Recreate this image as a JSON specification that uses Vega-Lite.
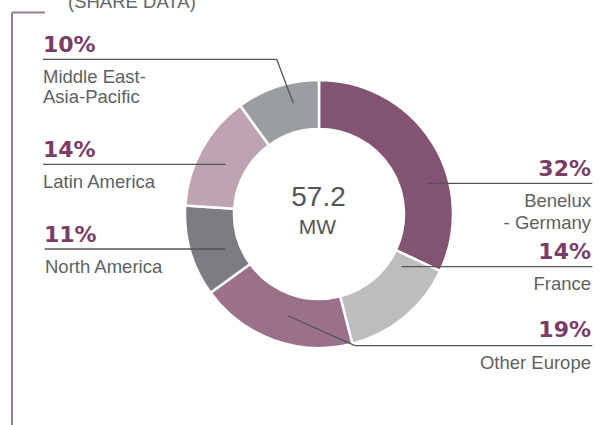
{
  "$schema": "https://vega.github.io/schema/vega-lite/v6.json",
  "width": 611,
  "height": 425,
  "padding": 0,
  "autosize": {"type": "none"},
  "background": "white",
  "config": {"view": {"stroke": null}},
  "datasets": {
    "slices": [
      {"region": "Benelux - Germany", "share": 32, "k": 1},
      {"region": "France", "share": 14, "k": 2},
      {"region": "Other Europe", "share": 19, "k": 3},
      {"region": "North America", "share": 11, "k": 4},
      {"region": "Latin America", "share": 14, "k": 5},
      {"region": "Middle East-Asia-Pacific", "share": 10, "k": 6}
    ],
    "leaders": [
      {"x": 43, "y": 59.3, "x2": 276.7, "y2": 59.3},
      {"x": 276.7, "y": 59.3, "x2": 293.3, "y2": 103.3},
      {"x": 43, "y": 164.3, "x2": 225.7, "y2": 164.3},
      {"x": 44.5, "y": 249, "x2": 225, "y2": 249},
      {"x": 426.7, "y": 183.3, "x2": 592.3, "y2": 183.3},
      {"x": 401.7, "y": 266.7, "x2": 592.3, "y2": 266.7},
      {"x": 355, "y": 345.7, "x2": 592.3, "y2": 345.7},
      {"x": 288.3, "y": 316, "x2": 355, "y2": 345.7}
    ],
    "frame": [
      {"x": 12, "y": 12.5, "x2": 12, "y2": 425},
      {"x": 12, "y": 12.5, "x2": 45, "y2": 12.5}
    ],
    "texts": [
      {"kind": "pctL", "txt": "10%", "x": 43, "y": 52.3},
      {"kind": "pctL", "txt": "14%", "x": 43, "y": 157.3},
      {"kind": "pctL", "txt": "11%", "x": 44, "y": 241.7},
      {"kind": "pctR", "txt": "32%", "x": 591, "y": 175.7},
      {"kind": "pctR", "txt": "14%", "x": 591, "y": 259.3},
      {"kind": "pctR", "txt": "19%", "x": 591, "y": 337.3},
      {"kind": "nameL", "txt": "Middle East-\nAsia-Pacific", "x": 43, "y": 82.7},
      {"kind": "nameL", "txt": "Latin America", "x": 43, "y": 188.3},
      {"kind": "nameL", "txt": "North America", "x": 45, "y": 272.7},
      {"kind": "nameR", "txt": "Benelux\n- Germany", "x": 591, "y": 206.7},
      {"kind": "nameR", "txt": "France", "x": 591, "y": 290},
      {"kind": "nameR", "txt": "Other Europe", "x": 591, "y": 369},
      {"kind": "big", "txt": "57.2", "x": 318.5, "y": 206},
      {"kind": "unit", "txt": "MW", "x": 317.5, "y": 234},
      {"kind": "title", "txt": "(SHARE DATA)", "x": 68, "y": 8}
    ]
  },
  "layer": [
    {
      "data": {"name": "frame"},
      "mark": {"type": "rule", "stroke": "#9b7b92", "strokeWidth": 2},
      "encoding": {
        "x": {"field": "x", "type": "quantitative", "scale": {"domain": [0, 611], "nice": false, "zero": false}, "axis": null},
        "y": {"field": "y", "type": "quantitative", "scale": {"domain": [0, 425], "nice": false, "zero": false, "reverse": true}, "axis": null},
        "x2": {"field": "x2"},
        "y2": {"field": "y2"}
      }
    },
    {
      "data": {"name": "slices"},
      "mark": {"type": "arc", "outerRadius": 134, "innerRadius": 85, "stroke": "white", "strokeWidth": 2.5},
      "encoding": {
        "theta": {"field": "share", "type": "quantitative", "stack": true},
        "order": {"field": "k", "type": "quantitative"},
        "color": {
          "field": "region",
          "type": "nominal",
          "scale": {
            "domain": ["Benelux - Germany", "France", "Other Europe", "North America", "Latin America", "Middle East-Asia-Pacific"],
            "range": ["#835373", "#bcbdbf", "#9b7189", "#7c7d81", "#bea3b0", "#9a9ea0"]
          },
          "legend": null
        },
        "x": {"datum": 319, "type": "quantitative"},
        "y": {"datum": 214, "type": "quantitative"}
      }
    },
    {
      "data": {"name": "leaders"},
      "mark": {"type": "rule", "stroke": "#555555", "strokeWidth": 1.3},
      "encoding": {
        "x": {"field": "x", "type": "quantitative"},
        "y": {"field": "y", "type": "quantitative"},
        "x2": {"field": "x2"},
        "y2": {"field": "y2"}
      }
    },
    {
      "data": {"name": "texts"},
      "transform": [{"filter": "datum.kind === 'pctL'"}],
      "mark": {"type": "text", "align": "left", "baseline": "alphabetic", "font": "DejaVu Sans", "fontWeight": "bold", "fontSize": 22, "fill": "#7b3d68"},
      "encoding": {
        "x": {"field": "x", "type": "quantitative"},
        "y": {"field": "y", "type": "quantitative"},
        "text": {"field": "txt"}
      }
    },
    {
      "data": {"name": "texts"},
      "transform": [{"filter": "datum.kind === 'pctR'"}],
      "mark": {"type": "text", "align": "right", "baseline": "alphabetic", "font": "DejaVu Sans", "fontWeight": "bold", "fontSize": 22, "fill": "#7b3d68"},
      "encoding": {
        "x": {"field": "x", "type": "quantitative"},
        "y": {"field": "y", "type": "quantitative"},
        "text": {"field": "txt"}
      }
    },
    {
      "data": {"name": "texts"},
      "transform": [{"filter": "datum.kind === 'nameL'"}],
      "mark": {"type": "text", "align": "left", "baseline": "alphabetic", "font": "Liberation Sans", "fontSize": 18.5, "fill": "#5f5f5f", "lineBreak": "\n", "lineHeight": 20.5},
      "encoding": {
        "x": {"field": "x", "type": "quantitative"},
        "y": {"field": "y", "type": "quantitative"},
        "text": {"field": "txt"}
      }
    },
    {
      "data": {"name": "texts"},
      "transform": [{"filter": "datum.kind === 'nameR'"}],
      "mark": {"type": "text", "align": "right", "baseline": "alphabetic", "font": "Liberation Sans", "fontSize": 18.5, "fill": "#5f5f5f", "lineBreak": "\n", "lineHeight": 22.5},
      "encoding": {
        "x": {"field": "x", "type": "quantitative"},
        "y": {"field": "y", "type": "quantitative"},
        "text": {"field": "txt"}
      }
    },
    {
      "data": {"name": "texts"},
      "transform": [{"filter": "datum.kind === 'big'"}],
      "mark": {"type": "text", "align": "center", "baseline": "alphabetic", "font": "Liberation Sans", "fontSize": 28, "fill": "#555555"},
      "encoding": {
        "x": {"field": "x", "type": "quantitative"},
        "y": {"field": "y", "type": "quantitative"},
        "text": {"field": "txt"}
      }
    },
    {
      "data": {"name": "texts"},
      "transform": [{"filter": "datum.kind === 'unit'"}],
      "mark": {"type": "text", "align": "center", "baseline": "alphabetic", "font": "Liberation Sans", "fontSize": 21, "fill": "#555555"},
      "encoding": {
        "x": {"field": "x", "type": "quantitative"},
        "y": {"field": "y", "type": "quantitative"},
        "text": {"field": "txt"}
      }
    },
    {
      "data": {"name": "texts"},
      "transform": [{"filter": "datum.kind === 'title'"}],
      "mark": {"type": "text", "align": "left", "baseline": "alphabetic", "font": "Liberation Sans", "fontSize": 18.5, "fill": "#666666"},
      "encoding": {
        "x": {"field": "x", "type": "quantitative"},
        "y": {"field": "y", "type": "quantitative"},
        "text": {"field": "txt"}
      }
    }
  ]
}
